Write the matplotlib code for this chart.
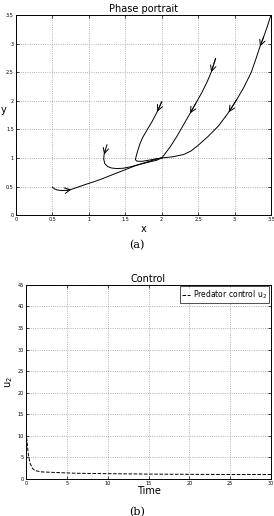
import numpy as np
import matplotlib
matplotlib.use("Agg")
from matplotlib import pyplot as plt

# phase portrait trajectories (x, y)
tr1_x = [0.50, 0.53, 0.57, 0.63, 0.70, 0.76, 0.85, 0.95, 1.06, 1.15, 1.25, 1.35, 1.45,
         1.55, 1.65, 1.75, 1.85, 1.93, 2.00]
tr1_y = [0.49, 0.46, 0.44, 0.43, 0.435, 0.45, 0.49, 0.535, 0.58, 0.62, 0.67, 0.72, 0.77,
         0.82, 0.87, 0.91, 0.95, 0.98, 1.00]
tr2_x = [1.25, 1.23, 1.21, 1.205, 1.22, 1.26, 1.31, 1.38, 1.47, 1.57, 1.66, 1.80, 1.93, 2.00]
tr2_y = [1.23, 1.15, 1.06, 0.98, 0.90, 0.85, 0.825, 0.815, 0.82, 0.845, 0.875, 0.92, 0.96, 1.00]
tr3_x = [2.00, 1.94, 1.87, 1.80, 1.74, 1.70, 1.67, 1.65, 1.64, 1.66, 1.72, 1.82, 1.92, 2.00]
tr3_y = [1.98, 1.81, 1.64, 1.49, 1.36, 1.24, 1.12, 1.03, 0.97, 0.945, 0.94, 0.96, 0.985, 1.00]
tr4_x = [2.74, 2.68, 2.62, 2.55, 2.47, 2.39, 2.30, 2.21, 2.12, 2.05, 2.00]
tr4_y = [2.74, 2.50, 2.32, 2.14, 1.96, 1.78, 1.58, 1.38, 1.20, 1.08, 1.00]
tr5_x = [3.50, 3.45, 3.40, 3.35, 3.29, 3.23, 3.13, 3.03, 2.92, 2.78, 2.64, 2.50, 2.40,
         2.30, 2.15, 2.00]
tr5_y = [3.50, 3.30, 3.12, 2.95, 2.72, 2.50, 2.24, 2.02, 1.80, 1.56, 1.38, 1.22, 1.12,
         1.06, 1.02, 1.00]
# arrow heads sit on the point after each listed index
arrow_idx = [(tr1_x, tr1_y, [4]), (tr2_x, tr2_y, [1]), (tr3_x, tr3_y, [0]),
             (tr4_x, tr4_y, [0, 4]), (tr5_x, tr5_y, [2, 7])]

# control u2 over time
t = [0, 0.1, 0.2, 0.3, 0.5, 0.8, 1.1, 2, 4, 6, 10, 15, 20, 25, 30]
u2 = [12, 9, 7, 5.5, 3.6, 2.4, 1.9, 1.6, 1.45, 1.3, 1.2, 1.1, 1.05, 1.0, 1.0]

fig = plt.figure(figsize=(2.74, 5.16), dpi=100)
ax1 = fig.add_axes([0.058, 0.583, 0.931, 0.388])
ax2 = fig.add_axes([0.095, 0.072, 0.894, 0.376])

for ax in (ax1, ax2):
    ax.grid(True, linestyle=':', color='#999999', linewidth=0.6)
    ax.tick_params(direction='in', top=True, right=True, labelsize=3.5,
                   length=2, width=0.5, pad=1.5)
    for s in ax.spines.values():
        s.set_linewidth(0.7)

for xs, ys, idx in arrow_idx:
    ax1.plot(xs, ys, color='black', linewidth=0.7)
    for i in idx:
        ax1.annotate('', xy=(xs[i + 1], ys[i + 1]), xytext=(xs[i], ys[i]),
                     arrowprops=dict(arrowstyle='->', color='black', lw=0.7,
                                     mutation_scale=10, shrinkA=0, shrinkB=0))

ax1.set_xlim(0, 3.5)
ax1.set_ylim(0, 3.5)
ax1.set_xticks(np.arange(0, 3.51, 0.5))
ax1.set_yticks(np.arange(0, 3.51, 0.5))
ax1.set_xticklabels(['0', '0.5', '1', '1.5', '2', '2.5', '3', '3.5'])
ax1.set_yticklabels(['0', '0.5', '1', '1.5', '2', '2.5', '3', '3.5'])
ax1.set_title('Phase portrait', fontsize=7, pad=2)
ax1.set_xlabel('x', fontsize=7, labelpad=1)
ax1.set_ylabel('y', fontsize=7, labelpad=2, rotation=0)

ax2.plot(t, u2, 'k--', linewidth=0.7, label='Predator control u$_2$')
ax2.set_xlim(0, 30)
ax2.set_ylim(0, 45)
ax2.set_xticks(np.arange(0, 31, 5))
ax2.set_yticks(np.arange(0, 46, 5))
ax2.set_title('Control', fontsize=7, pad=2)
ax2.set_xlabel('Time', fontsize=7, labelpad=0)
ax2.set_ylabel('u$_2$', fontsize=7, labelpad=2)
leg = ax2.legend(loc='upper right', fontsize=5.5, handlelength=1.0, fancybox=False,
                 borderpad=0.3, handletextpad=0.4, borderaxespad=0.2)
leg.get_frame().set_edgecolor('black')
leg.get_frame().set_linewidth(0.6)

fig.text(0.5, 0.525, '(a)', ha='center', va='center', fontsize=8, family='DejaVu Serif')
fig.text(0.5, 0.008, '(b)', ha='center', va='center', fontsize=8, family='DejaVu Serif')

fig.savefig('out.png', dpi=100)
